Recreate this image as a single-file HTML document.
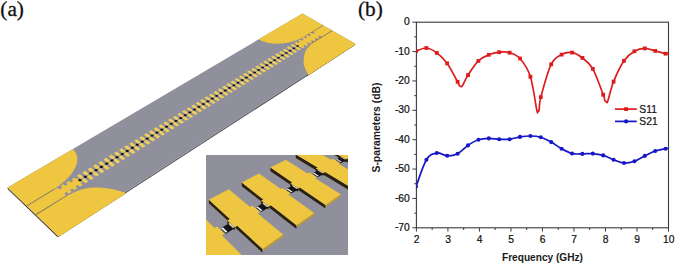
<!DOCTYPE html>
<html><head><meta charset="utf-8"><style>
html,body{margin:0;padding:0;background:#fff;}
body{width:675px;height:263px;overflow:hidden;position:relative;font-family:"Liberation Sans", sans-serif;}
svg{position:absolute;left:0;top:0;}
</style></head><body>
<svg width="675" height="263" viewBox="0 0 675 263">
<defs><clipPath id="pc"><rect x="416.6" y="0" width="260" height="263"/></clipPath><clipPath id="ic"><rect x="206" y="155" width="142" height="100"/></clipPath></defs>
<text x="0.3" y="16.0" font-family="'Liberation Serif', serif" font-size="21.3" fill="#111" stroke="#111" stroke-width="0.3">(a)</text>
<text x="357.9" y="16.0" font-family="'Liberation Serif', serif" font-size="21.3" fill="#111" stroke="#111" stroke-width="0.3">(b)</text>
<g><polygon points="7.60,187.50 57.70,235.70 57.70,237.30 7.60,189.10" fill="#3b3222"/>
<polygon points="57.70,235.70 355.00,43.50 355.00,45.10 57.70,237.30" fill="#5c5c64"/>
<polygon points="57.70,235.70 125.87,191.63 125.87,193.23 57.70,237.30" fill="#3b3222"/>
<polygon points="307.33,74.32 355.00,43.50 355.00,45.10 307.33,75.92" fill="#3b3222"/>
<polygon points="7.60,187.50 302.50,13.50 355.00,43.50 57.70,235.70" fill="#90909c"/>
<polygon points="7.60,187.50 72.64,149.13 73.35,149.78 74.01,150.47 74.62,151.19 75.16,151.94 75.64,152.72 76.07,153.53 76.43,154.37 76.73,155.24 76.97,156.13 77.14,157.05 77.25,157.99 77.30,158.96 77.28,159.94 77.20,160.95 77.05,161.98 76.84,163.02 76.57,164.07 76.23,165.14 75.82,166.23 75.35,167.32 74.82,168.43 74.23,169.54 73.57,170.65 72.85,171.77 72.08,172.90 71.24,174.02 70.34,175.14 69.39,176.26 68.38,177.38 67.31,178.49 66.20,179.59 65.03,180.68 63.81,181.76 62.54,182.82 61.23,183.87 59.87,184.91 58.47,185.92 57.03,186.92 55.55,187.89 54.03,188.84 26.48,205.66" fill="#efc640"/>
<polygon points="36.18,215.00 38.21,213.73 41.01,211.98 44.35,209.90 47.97,207.63 51.65,205.34 55.17,203.15 58.30,201.22 60.81,199.68 62.74,198.51 64.32,197.55 65.63,196.77 66.73,196.13 67.72,195.57 68.66,195.05 69.64,194.54 70.73,193.98 71.88,193.41 72.98,192.87 74.06,192.36 75.12,191.88 76.19,191.42 77.28,190.99 78.40,190.58 79.57,190.19 80.79,189.82 82.02,189.45 83.29,189.11 84.57,188.79 85.88,188.50 87.21,188.25 88.57,188.03 89.94,187.85 91.36,187.71 92.82,187.62 94.31,187.56 95.82,187.53 97.34,187.53 98.85,187.56 100.33,187.62 101.77,187.70 103.19,187.82 104.62,187.98 106.03,188.17 107.43,188.38 108.80,188.61 110.14,188.86 111.43,189.10 112.67,189.34 113.87,189.59 115.03,189.85 116.16,190.12 117.26,190.40 118.31,190.68 119.31,190.96 120.25,191.21 121.14,191.45 121.99,191.67 122.80,191.90 123.57,192.11 124.29,192.32 124.94,192.50 125.51,192.67 126.00,192.81 126.38,192.92 58.76,236.72" fill="#efc640"/>
<polygon points="302.50,13.50 322.95,25.19 305.14,36.08 304.13,36.68 303.08,37.26 302.01,37.82 300.90,38.36 299.77,38.87 298.62,39.37 297.44,39.84 296.23,40.29 295.01,40.71 293.77,41.11 292.52,41.48 291.25,41.82 289.97,42.13 288.68,42.42 287.38,42.68 286.08,42.90 284.77,43.10 283.47,43.27 282.16,43.41 280.86,43.51 279.57,43.59 278.28,43.64 277.00,43.65 275.74,43.63 274.48,43.58 273.25,43.50 272.03,43.39 270.84,43.25 269.66,43.08 268.52,42.88 267.39,42.65 266.30,42.39 265.23,42.10 264.20,41.78 263.20,41.43 262.24,41.06 261.31,40.66 260.42,40.23 259.57,39.78 258.76,39.31" fill="#efc640"/>
<polygon points="308.22,75.14 308.20,75.08 308.19,75.05 308.17,75.00 308.15,74.94 308.11,74.83 308.03,74.66 307.92,74.40 307.75,74.04 307.52,73.56 307.22,72.97 306.88,72.30 306.50,71.56 306.12,70.80 305.76,70.02 305.42,69.26 305.14,68.54 304.89,67.86 304.66,67.20 304.43,66.55 304.23,65.90 304.06,65.22 303.91,64.52 303.80,63.78 303.72,62.99 303.68,62.12 303.68,61.18 303.70,60.20 303.76,59.19 303.84,58.18 303.95,57.20 304.08,56.26 304.23,55.40 304.40,54.59 304.60,53.82 304.82,53.07 305.07,52.36 305.34,51.67 305.63,51.02 305.94,50.39 306.27,49.79 306.61,49.24 306.99,48.72 307.38,48.24 307.79,47.79 308.22,47.35 308.67,46.92 309.12,46.49 309.58,46.04 309.95,45.66 310.20,45.36 310.40,45.11 310.64,44.84 311.01,44.50 311.58,44.05 312.45,43.43 313.69,42.58 315.50,41.40 317.87,39.89 320.60,38.18 323.48,36.38 326.31,34.61 328.90,33.00 331.06,31.66 332.60,30.70 356.10,44.13" fill="#efc640"/>
<polygon points="26.58,205.76 54.13,188.93 54.68,189.43 27.12,206.28" fill="#8a7444"/>
<polygon points="35.52,214.36 66.17,195.33 66.73,195.84 36.08,214.90" fill="#8a7444"/>
<polygon points="305.14,36.08 322.95,25.19 323.52,25.51 305.71,36.41" fill="#8a7444"/>
<polygon points="311.29,43.12 331.91,30.31 332.49,30.64 311.87,43.46" fill="#8a7444"/>
<polygon points="27.12,206.28 55.88,188.70 64.37,196.45 35.52,214.36" fill="#efc640"/>
<polygon points="53.68,193.12 77.40,178.55 81.98,182.59 58.22,197.29" fill="#efc640"/>
<polygon points="313.30,31.77 323.52,25.51 331.91,30.31 321.69,36.65" fill="#efc640"/>
<polygon points="295.60,44.63 317.35,31.28 322.07,34.02 300.32,47.47" fill="#efc640"/>
<g><polygon points="54.82,189.50 57.81,187.67 66.15,195.26 63.15,197.13" fill="#efc640"/><polygon points="60.43,186.07 63.40,184.25 71.76,191.78 68.78,193.63" fill="#efc640"/><polygon points="66.00,182.66 68.95,180.86 77.32,188.33 74.37,190.16" fill="#efc640"/><polygon points="71.52,179.28 74.45,177.49 82.84,184.90 79.91,186.72" fill="#efc640"/><polygon points="76.85,175.80 79.75,174.03 83.50,177.31 80.59,179.09" fill="#f1cf5a"/><polygon points="81.41,179.81 84.31,178.02 88.30,181.51 85.40,183.32" fill="#f1cf5a"/><polygon points="82.28,172.48 85.15,170.72 88.91,173.97 86.03,175.75" fill="#f1cf5a"/><polygon points="86.84,176.46 89.73,174.68 93.72,178.15 90.84,179.94" fill="#f1cf5a"/><polygon points="87.66,169.19 90.51,167.44 94.27,170.67 91.42,172.43" fill="#f1cf5a"/><polygon points="92.23,173.13 95.09,171.37 99.10,174.81 96.23,176.59" fill="#f1cf5a"/><polygon points="93.00,165.93 95.83,164.19 99.60,167.40 96.76,169.14" fill="#f1cf5a"/><polygon points="97.58,169.84 100.41,168.09 104.42,171.50 101.59,173.26" fill="#f1cf5a"/><polygon points="98.29,162.69 101.10,160.97 104.87,164.15 102.06,165.88" fill="#f1cf5a"/><polygon points="102.88,166.57 105.69,164.84 109.71,168.22 106.89,169.97" fill="#f1cf5a"/><polygon points="103.54,159.48 106.32,157.78 110.10,160.93 107.31,162.65" fill="#f1cf5a"/><polygon points="108.13,163.33 110.92,161.61 114.95,164.97 112.15,166.70" fill="#f1cf5a"/><polygon points="108.74,156.30 111.51,154.61 115.29,157.73 112.52,159.44" fill="#f1cf5a"/><polygon points="113.34,160.12 116.11,158.41 120.14,161.74 117.37,163.46" fill="#f1cf5a"/><polygon points="113.90,153.14 116.65,151.46 120.44,154.57 117.69,156.26" fill="#f1cf5a"/><polygon points="118.51,156.93 121.26,155.24 125.29,158.54 122.54,160.25" fill="#f1cf5a"/><polygon points="119.02,150.01 121.75,148.34 125.54,151.42 122.81,153.10" fill="#f1cf5a"/><polygon points="123.64,153.77 126.36,152.09 130.40,155.37 127.67,157.06" fill="#f1cf5a"/><polygon points="124.10,146.90 126.80,145.25 130.60,148.31 127.90,149.97" fill="#f1cf5a"/><polygon points="128.72,150.64 131.43,148.97 135.47,152.22 132.76,153.90" fill="#f1cf5a"/><polygon points="129.14,143.83 131.82,142.19 135.62,145.22 132.94,146.87" fill="#f1cf5a"/><polygon points="133.76,147.53 136.45,145.88 140.49,149.10 137.81,150.77" fill="#f1cf5a"/><polygon points="134.13,140.77 136.79,139.14 140.60,142.15 137.94,143.79" fill="#f1cf5a"/><polygon points="138.76,144.45 141.43,142.81 145.48,146.01 142.81,147.66" fill="#f1cf5a"/><polygon points="139.09,137.74 141.73,136.13 145.54,139.11 142.90,140.74" fill="#f1cf5a"/><polygon points="143.72,141.39 146.37,139.76 150.42,142.94 147.78,144.58" fill="#f1cf5a"/><polygon points="144.00,134.74 146.62,133.13 150.44,136.10 147.81,137.71" fill="#f1cf5a"/><polygon points="148.64,138.36 151.27,136.74 155.32,139.89 152.70,141.52" fill="#f1cf5a"/><polygon points="148.88,131.75 151.48,130.16 155.30,133.11 152.69,134.71" fill="#f1cf5a"/><polygon points="153.52,135.35 156.13,133.74 160.19,136.87 157.58,138.49" fill="#f1cf5a"/><polygon points="153.71,128.80 156.29,127.22 160.12,130.14 157.53,131.73" fill="#f1cf5a"/><polygon points="158.36,132.37 160.95,130.77 165.01,133.88 162.43,135.48" fill="#f1cf5a"/><polygon points="158.51,125.86 161.07,124.30 164.90,127.19 162.33,128.77" fill="#f1cf5a"/><polygon points="163.16,129.41 165.73,127.82 169.80,130.91 167.23,132.50" fill="#f1cf5a"/><polygon points="163.27,122.95 165.81,121.40 169.64,124.27 167.10,125.84" fill="#f1cf5a"/><polygon points="167.93,126.47 170.47,124.90 174.55,127.96 172.00,129.54" fill="#f1cf5a"/><polygon points="167.99,120.07 170.52,118.52 174.35,121.38 171.82,122.93" fill="#f1cf5a"/><polygon points="172.65,123.55 175.18,122.00 179.26,125.03 176.73,126.60" fill="#f1cf5a"/><polygon points="172.68,117.20 175.18,115.67 179.02,118.50 176.51,120.05" fill="#f1cf5a"/><polygon points="177.34,120.66 179.85,119.12 183.93,122.13 181.42,123.69" fill="#f1cf5a"/><polygon points="177.32,114.36 179.81,112.84 183.65,115.65 181.16,117.18" fill="#f1cf5a"/><polygon points="181.99,117.80 184.48,116.26 188.56,119.25 186.07,120.80" fill="#f1cf5a"/><polygon points="181.93,111.54 184.40,110.03 188.24,112.82 185.77,114.34" fill="#f1cf5a"/><polygon points="186.61,114.95 189.08,113.43 193.16,116.40 190.69,117.93" fill="#f1cf5a"/><polygon points="186.51,108.74 188.96,107.24 192.80,110.01 190.35,111.52" fill="#f1cf5a"/><polygon points="191.19,112.13 193.64,110.62 197.73,113.57 195.27,115.09" fill="#f1cf5a"/><polygon points="191.05,105.97 193.48,104.48 197.33,107.23 194.89,108.73" fill="#f1cf5a"/><polygon points="195.73,109.33 198.16,107.83 202.25,110.75 199.82,112.27" fill="#f1cf5a"/><polygon points="195.56,103.21 197.97,101.73 201.82,104.47 199.40,105.95" fill="#f1cf5a"/><polygon points="200.24,106.55 202.65,105.06 206.75,107.96 204.33,109.47" fill="#f1cf5a"/><polygon points="200.03,100.48 202.42,99.01 206.27,101.72 203.87,103.20" fill="#f1cf5a"/><polygon points="204.71,103.79 207.11,102.31 211.20,105.20 208.80,106.69" fill="#f1cf5a"/><polygon points="204.46,97.76 206.84,96.31 210.69,99.00 208.31,100.47" fill="#f1cf5a"/><polygon points="209.15,101.05 211.53,99.59 215.63,102.45 213.24,103.93" fill="#f1cf5a"/><polygon points="208.86,95.07 211.23,93.63 215.08,96.30 212.72,97.76" fill="#f1cf5a"/><polygon points="213.55,98.34 215.92,96.88 220.02,99.72 217.65,101.19" fill="#f1cf5a"/><polygon points="213.23,92.40 215.58,90.97 219.44,93.62 217.09,95.07" fill="#f1cf5a"/><polygon points="217.92,95.64 220.27,94.20 224.37,97.02 222.02,98.48" fill="#f1cf5a"/><polygon points="217.57,89.75 219.90,88.32 223.76,90.96 221.42,92.40" fill="#f1cf5a"/><polygon points="222.26,92.97 224.59,91.53 228.69,94.34 226.36,95.78" fill="#f1cf5a"/><polygon points="221.87,87.12 224.19,85.70 228.04,88.32 225.73,89.75" fill="#f1cf5a"/><polygon points="226.57,90.32 228.88,88.89 232.98,91.67 230.67,93.11" fill="#f1cf5a"/><polygon points="226.14,84.51 228.44,83.10 232.30,85.70 230.00,87.12" fill="#f1cf5a"/><polygon points="230.84,87.68 233.14,86.27 237.24,89.03 234.94,90.46" fill="#f1cf5a"/><polygon points="230.38,81.92 232.66,80.52 236.52,83.10 234.24,84.51" fill="#f1cf5a"/><polygon points="235.08,85.07 237.36,83.66 241.47,86.41 239.18,87.82" fill="#f1cf5a"/><polygon points="234.59,79.34 236.85,77.96 240.71,80.52 238.45,81.92" fill="#f1cf5a"/><polygon points="239.29,82.47 241.55,81.08 245.66,83.80 243.39,85.21" fill="#f1cf5a"/><polygon points="238.76,76.79 241.01,75.41 244.87,77.96 242.62,79.34" fill="#f1cf5a"/><polygon points="243.46,79.90 245.71,78.51 249.82,81.22 247.57,82.62" fill="#f1cf5a"/><polygon points="242.91,74.26 245.14,72.89 249.00,75.42 246.77,76.79" fill="#f1cf5a"/><polygon points="247.61,77.34 249.84,75.97 253.95,78.65 251.72,80.04" fill="#f1cf5a"/><polygon points="247.02,71.74 249.24,70.38 253.10,72.89 250.88,74.26" fill="#f1cf5a"/><polygon points="251.72,74.81 253.94,73.44 258.05,76.11 255.83,77.49" fill="#f1cf5a"/><polygon points="251.10,69.24 253.31,67.90 257.17,70.39 254.97,71.75" fill="#f1cf5a"/><polygon points="255.81,72.29 258.01,70.93 262.12,73.58 259.92,74.95" fill="#f1cf5a"/><polygon points="255.16,66.76 257.35,65.43 261.21,67.90 259.02,69.25" fill="#f1cf5a"/><polygon points="259.86,69.79 262.05,68.44 266.16,71.07 263.97,72.43" fill="#f1cf5a"/><polygon points="259.18,64.30 261.35,62.97 265.22,65.43 263.05,66.77" fill="#f1cf5a"/><polygon points="263.89,67.31 266.06,65.97 270.17,68.58 268.00,69.93" fill="#f1cf5a"/><polygon points="263.17,61.86 265.33,60.54 269.20,62.98 267.04,64.31" fill="#f1cf5a"/><polygon points="267.88,64.85 270.04,63.51 274.15,66.11 271.99,67.45" fill="#f1cf5a"/><polygon points="267.14,59.44 269.29,58.12 273.15,60.55 271.01,61.87" fill="#f1cf5a"/><polygon points="271.85,62.40 273.99,61.08 278.10,63.66 275.96,64.99" fill="#f1cf5a"/><polygon points="271.08,57.03 273.21,55.73 277.08,58.14 274.94,59.45" fill="#f1cf5a"/><polygon points="275.78,59.97 277.91,58.66 282.03,61.22 279.90,62.54" fill="#f1cf5a"/><polygon points="274.99,54.64 277.10,53.34 280.97,55.74 278.85,57.04" fill="#f1cf5a"/><polygon points="279.69,57.56 281.81,56.26 285.92,58.80 283.80,60.12" fill="#f1cf5a"/><polygon points="278.87,52.27 280.97,50.98 284.84,53.36 282.73,54.65" fill="#f1cf5a"/><polygon points="283.57,55.17 285.68,53.87 289.79,56.40 287.68,57.71" fill="#f1cf5a"/><polygon points="282.72,49.91 284.81,48.63 288.67,50.99 286.59,52.28" fill="#f1cf5a"/><polygon points="287.43,52.80 289.51,51.51 293.63,54.02 291.54,55.31" fill="#f1cf5a"/><polygon points="286.54,47.57 288.62,46.30 292.49,48.65 290.41,49.93" fill="#f1cf5a"/><polygon points="291.25,50.44 293.33,49.16 297.44,51.65 295.36,52.94" fill="#f1cf5a"/><polygon points="290.34,45.25 292.40,43.99 296.27,46.32 294.21,47.59" fill="#f1cf5a"/><polygon points="295.05,48.10 297.11,46.83 301.22,49.30 299.16,50.58" fill="#f1cf5a"/><polygon points="294.27,43.04 296.32,41.78 304.98,46.97 302.93,48.24" fill="#efc640"/><polygon points="298.01,40.75 300.05,39.50 308.71,44.65 306.67,45.92" fill="#efc640"/><polygon points="301.73,38.47 303.75,37.24 312.41,42.35 310.39,43.61" fill="#efc640"/><polygon points="305.42,36.21 307.43,34.99 316.09,40.07 314.08,41.32" fill="#efc640"/><polygon points="309.09,33.97 311.09,32.75 319.74,37.80 317.75,39.04" fill="#efc640"/><polygon points="81.18,179.34 81.50,179.81 81.50,180.34 81.18,180.83 80.61,181.18 79.90,181.32 79.19,181.23 78.62,180.92 78.30,180.45 78.31,179.92 78.62,179.43 79.20,179.08 79.90,178.94 80.61,179.03" fill="#101010"/><polygon points="86.62,175.99 86.93,176.45 86.94,176.98 86.62,177.47 86.06,177.82 85.35,177.96 84.64,177.87 84.07,177.56 83.76,177.10 83.76,176.57 84.07,176.08 84.64,175.73 85.34,175.59 86.05,175.68" fill="#101010"/><polygon points="92.01,172.67 92.32,173.13 92.33,173.65 92.02,174.14 91.46,174.48 90.76,174.62 90.05,174.53 89.48,174.23 89.16,173.77 89.16,173.24 89.47,172.76 90.03,172.42 90.73,172.28 91.44,172.37" fill="#101010"/><polygon points="97.35,169.38 97.67,169.83 97.68,170.35 97.37,170.83 96.82,171.18 96.12,171.32 95.41,171.23 94.85,170.92 94.53,170.47 94.52,169.95 94.83,169.47 95.38,169.13 96.08,168.99 96.78,169.08" fill="#101010"/><polygon points="102.65,166.11 102.97,166.57 102.98,167.08 102.68,167.56 102.13,167.90 101.43,168.04 100.73,167.95 100.16,167.65 99.84,167.19 99.83,166.68 100.13,166.20 100.69,165.86 101.38,165.73 102.08,165.81" fill="#101010"/><polygon points="107.90,162.88 108.23,163.33 108.24,163.84 107.95,164.31 107.40,164.65 106.70,164.78 106.01,164.70 105.44,164.40 105.12,163.95 105.10,163.44 105.40,162.97 105.95,162.63 106.64,162.49 107.34,162.58" fill="#101010"/><polygon points="113.11,159.67 113.44,160.11 113.46,160.62 113.17,161.09 112.62,161.42 111.93,161.56 111.24,161.47 110.67,161.17 110.34,160.73 110.33,160.22 110.62,159.76 111.16,159.42 111.85,159.28 112.55,159.37" fill="#101010"/><polygon points="118.28,156.48 118.61,156.93 118.63,157.43 118.34,157.89 117.80,158.22 117.12,158.36 116.42,158.27 115.85,157.98 115.53,157.54 115.51,157.03 115.80,156.57 116.34,156.24 117.02,156.10 117.72,156.19" fill="#101010"/><polygon points="123.41,153.33 123.73,153.76 123.76,154.26 123.48,154.72 122.94,155.05 122.26,155.19 121.56,155.10 121.00,154.81 120.67,154.37 120.65,153.87 120.93,153.41 121.47,153.08 122.15,152.95 122.84,153.04" fill="#101010"/><polygon points="128.49,150.20 128.82,150.63 128.85,151.12 128.57,151.58 128.03,151.91 127.36,152.04 126.67,151.96 126.10,151.67 125.77,151.23 125.75,150.74 126.03,150.28 126.56,149.96 127.23,149.82 127.92,149.91" fill="#101010"/><polygon points="133.53,147.09 133.86,147.52 133.89,148.01 133.62,148.47 133.09,148.79 132.41,148.92 131.72,148.84 131.16,148.55 130.83,148.12 130.80,147.63 131.08,147.18 131.60,146.85 132.28,146.72 132.96,146.80" fill="#101010"/><polygon points="138.53,144.01 138.86,144.44 138.89,144.92 138.62,145.37 138.10,145.70 137.43,145.83 136.74,145.74 136.18,145.46 135.85,145.03 135.81,144.54 136.09,144.09 136.61,143.77 137.28,143.64 137.96,143.73" fill="#101010"/><polygon points="143.49,140.96 143.82,141.38 143.86,141.86 143.59,142.31 143.07,142.63 142.40,142.76 141.72,142.68 141.15,142.39 140.82,141.97 140.79,141.48 141.05,141.04 141.57,140.72 142.24,140.59 142.92,140.67" fill="#101010"/><polygon points="148.41,137.92 148.74,138.35 148.78,138.83 148.52,139.27 148.00,139.59 147.34,139.72 146.65,139.63 146.09,139.35 145.76,138.93 145.72,138.45 145.98,138.01 146.50,137.69 147.16,137.56 147.84,137.65" fill="#101010"/><polygon points="153.29,134.92 153.62,135.34 153.66,135.81 153.40,136.25 152.89,136.57 152.23,136.70 151.55,136.61 150.99,136.34 150.65,135.92 150.61,135.44 150.87,135.00 151.38,134.69 152.04,134.56 152.72,134.64" fill="#101010"/><polygon points="158.13,131.94 158.46,132.35 158.51,132.82 158.25,133.26 157.74,133.57 157.09,133.70 156.41,133.62 155.84,133.34 155.51,132.93 155.46,132.45 155.72,132.02 156.23,131.71 156.89,131.58 157.56,131.66" fill="#101010"/><polygon points="162.93,128.98 163.27,129.39 163.31,129.86 163.06,130.29 162.56,130.60 161.90,130.73 161.23,130.65 160.66,130.37 160.32,129.96 160.28,129.49 160.53,129.06 161.04,128.75 161.69,128.62 162.36,128.71" fill="#101010"/><polygon points="167.69,126.05 168.03,126.45 168.08,126.92 167.83,127.35 167.33,127.66 166.68,127.78 166.00,127.70 165.44,127.43 165.10,127.02 165.05,126.55 165.31,126.13 165.81,125.82 166.46,125.69 167.13,125.77" fill="#101010"/><polygon points="172.41,123.13 172.76,123.54 172.81,124.00 172.56,124.43 172.07,124.73 171.42,124.86 170.75,124.78 170.18,124.51 169.84,124.10 169.79,123.64 170.04,123.21 170.54,122.91 171.18,122.78 171.85,122.86" fill="#101010"/><polygon points="177.10,120.25 177.44,120.65 177.50,121.11 177.26,121.53 176.77,121.83 176.12,121.96 175.45,121.88 174.89,121.61 174.55,121.21 174.49,120.75 174.74,120.33 175.23,120.02 175.87,119.90 176.54,119.98" fill="#101010"/><polygon points="181.75,117.38 182.10,117.78 182.16,118.24 181.92,118.66 181.43,118.96 180.78,119.08 180.12,119.00 179.56,118.73 179.21,118.33 179.16,117.88 179.40,117.46 179.89,117.16 180.53,117.04 181.19,117.12" fill="#101010"/><polygon points="186.37,114.54 186.71,114.93 186.77,115.39 186.54,115.80 186.05,116.10 185.41,116.23 184.75,116.15 184.19,115.88 183.84,115.48 183.78,115.03 184.02,114.62 184.51,114.32 185.14,114.20 185.81,114.27" fill="#101010"/><polygon points="190.95,111.72 191.29,112.11 191.35,112.56 191.12,112.97 190.64,113.27 190.00,113.39 189.34,113.31 188.78,113.05 188.44,112.66 188.37,112.21 188.61,111.80 189.09,111.50 189.72,111.38 190.39,111.46" fill="#101010"/><polygon points="195.49,108.92 195.84,109.31 195.90,109.75 195.67,110.17 195.19,110.46 194.56,110.58 193.90,110.50 193.34,110.24 192.99,109.85 192.93,109.41 193.16,109.00 193.64,108.70 194.27,108.58 194.93,108.66" fill="#101010"/><polygon points="200.00,106.14 200.34,106.53 200.41,106.97 200.19,107.38 199.71,107.67 199.08,107.79 198.42,107.72 197.86,107.46 197.51,107.07 197.45,106.63 197.68,106.22 198.15,105.93 198.78,105.81 199.44,105.88" fill="#101010"/><polygon points="204.47,103.39 204.82,103.77 204.89,104.21 204.67,104.62 204.19,104.91 203.57,105.03 202.91,104.95 202.35,104.69 202.00,104.31 201.93,103.87 202.16,103.46 202.63,103.17 203.25,103.05 203.91,103.13" fill="#101010"/><polygon points="208.91,100.65 209.26,101.04 209.33,101.47 209.11,101.87 208.64,102.16 208.02,102.28 207.36,102.20 206.80,101.95 206.45,101.56 206.38,101.13 206.60,100.73 207.07,100.44 207.69,100.32 208.35,100.40" fill="#101010"/><polygon points="213.31,97.94 213.66,98.32 213.74,98.75 213.52,99.15 213.06,99.44 212.43,99.55 211.78,99.48 211.22,99.23 210.87,98.85 210.80,98.41 211.02,98.01 211.48,97.73 212.10,97.61 212.75,97.69" fill="#101010"/><polygon points="217.68,95.25 218.03,95.62 218.11,96.05 217.90,96.45 217.44,96.73 216.82,96.85 216.16,96.78 215.61,96.52 215.26,96.15 215.18,95.72 215.40,95.32 215.86,95.04 216.47,94.92 217.12,95.00" fill="#101010"/><polygon points="222.02,92.57 222.37,92.95 222.45,93.38 222.24,93.77 221.78,94.05 221.17,94.17 220.52,94.09 219.96,93.84 219.61,93.47 219.53,93.04 219.74,92.65 220.20,92.37 220.81,92.25 221.46,92.33" fill="#101010"/><polygon points="226.32,89.92 226.68,90.30 226.76,90.72 226.55,91.11 226.10,91.39 225.48,91.50 224.83,91.43 224.28,91.18 223.93,90.81 223.85,90.39 224.05,90.00 224.51,89.72 225.12,89.60 225.77,89.68" fill="#101010"/><polygon points="230.59,87.29 230.95,87.66 231.03,88.08 230.83,88.47 230.38,88.75 229.77,88.86 229.12,88.79 228.56,88.54 228.21,88.17 228.13,87.75 228.33,87.36 228.79,87.09 229.39,86.97 230.04,87.05" fill="#101010"/><polygon points="234.83,84.68 235.19,85.05 235.27,85.46 235.07,85.85 234.62,86.13 234.02,86.24 233.37,86.17 232.82,85.92 232.46,85.55 232.38,85.14 232.58,84.75 233.03,84.48 233.64,84.36 234.28,84.44" fill="#101010"/><polygon points="239.04,82.09 239.40,82.45 239.49,82.87 239.29,83.25 238.84,83.52 238.24,83.64 237.59,83.56 237.04,83.32 236.68,82.96 236.60,82.54 236.80,82.16 237.24,81.89 237.85,81.77 238.49,81.85" fill="#101010"/><polygon points="243.22,79.51 243.57,79.88 243.66,80.29 243.47,80.67 243.03,80.94 242.43,81.05 241.78,80.98 241.23,80.74 240.87,80.38 240.79,79.96 240.98,79.59 241.42,79.31 242.03,79.20 242.66,79.27" fill="#101010"/><polygon points="247.36,76.96 247.72,77.32 247.81,77.73 247.62,78.11 247.18,78.38 246.58,78.49 245.94,78.42 245.39,78.18 245.03,77.82 244.94,77.41 245.14,77.03 245.58,76.76 246.17,76.65 246.81,76.72" fill="#101010"/><polygon points="251.48,74.43 251.84,74.78 251.93,75.19 251.74,75.56 251.30,75.83 250.71,75.94 250.07,75.87 249.52,75.63 249.16,75.28 249.07,74.87 249.26,74.50 249.69,74.23 250.29,74.12 250.93,74.19" fill="#101010"/><polygon points="255.56,71.91 255.92,72.26 256.02,72.67 255.83,73.04 255.40,73.31 254.80,73.42 254.17,73.35 253.62,73.11 253.26,72.75 253.16,72.35 253.35,71.98 253.78,71.71 254.38,71.60 255.01,71.67" fill="#101010"/><polygon points="259.62,69.41 259.98,69.76 260.07,70.16 259.89,70.53 259.46,70.80 258.87,70.91 258.23,70.84 257.68,70.60 257.32,70.25 257.23,69.85 257.41,69.48 257.84,69.22 258.43,69.11 259.06,69.18" fill="#101010"/><polygon points="263.64,66.93 264.00,67.28 264.10,67.68 263.92,68.05 263.49,68.31 262.90,68.42 262.27,68.35 261.72,68.12 261.36,67.77 261.26,67.37 261.45,67.00 261.87,66.74 262.46,66.63 263.09,66.70" fill="#101010"/><polygon points="267.63,64.47 268.00,64.82 268.10,65.21 267.92,65.58 267.49,65.84 266.91,65.95 266.28,65.88 265.73,65.65 265.37,65.30 265.27,64.90 265.45,64.54 265.87,64.28 266.46,64.17 267.09,64.24" fill="#101010"/><polygon points="271.60,62.03 271.96,62.37 272.07,62.77 271.89,63.13 271.47,63.39 270.88,63.49 270.26,63.43 269.71,63.20 269.35,62.85 269.24,62.46 269.42,62.10 269.84,61.84 270.42,61.73 271.05,61.80" fill="#101010"/><polygon points="275.54,59.60 275.90,59.95 276.00,60.33 275.83,60.69 275.41,60.95 274.83,61.06 274.21,60.99 273.66,60.76 273.29,60.42 273.19,60.03 273.37,59.67 273.78,59.41 274.36,59.31 274.99,59.38" fill="#101010"/><polygon points="279.45,57.20 279.81,57.54 279.92,57.92 279.74,58.28 279.33,58.54 278.75,58.64 278.13,58.57 277.58,58.35 277.22,58.01 277.11,57.62 277.28,57.26 277.70,57.01 278.27,56.90 278.90,56.97" fill="#101010"/><polygon points="283.33,54.80 283.69,55.14 283.80,55.53 283.63,55.88 283.22,56.14 282.64,56.24 282.02,56.17 281.47,55.95 281.11,55.61 281.00,55.23 281.17,54.87 281.58,54.62 282.16,54.51 282.78,54.58" fill="#101010"/><polygon points="287.18,52.43 287.54,52.77 287.65,53.15 287.49,53.50 287.08,53.75 286.50,53.86 285.88,53.79 285.34,53.57 284.97,53.23 284.86,52.85 285.03,52.50 285.44,52.25 286.01,52.14 286.63,52.21" fill="#101010"/><polygon points="291.00,50.08 291.37,50.41 291.48,50.79 291.32,51.14 290.91,51.39 290.34,51.49 289.72,51.43 289.17,51.20 288.81,50.87 288.70,50.49 288.86,50.14 289.27,49.89 289.84,49.79 290.46,49.85" fill="#101010"/><polygon points="294.80,47.74 295.17,48.07 295.28,48.44 295.12,48.79 294.71,49.04 294.15,49.14 293.53,49.08 292.98,48.86 292.62,48.52 292.51,48.15 292.67,47.80 293.07,47.55 293.64,47.45 294.26,47.52" fill="#101010"/><polygon points="298.57,45.41 298.94,45.74 299.05,46.12 298.89,46.46 298.49,46.71 297.93,46.81 297.31,46.74 296.77,46.53 296.40,46.20 296.29,45.82 296.45,45.48 296.85,45.23 297.41,45.13 298.03,45.19" fill="#101010"/></g></g>
<g clip-path="url(#ic)"><rect x="206" y="155" width="142" height="100" fill="#90909c"/>
<polygon points="375.03,137.45 379.05,135.05 383.60,137.12 379.60,139.56" fill="#0c0c0c"/>
<polygon points="375.03,136.25 379.05,133.85 383.60,135.92 379.60,138.36" fill="#151515"/>
<polygon points="375.03,136.55 375.79,136.10 380.35,138.20 379.60,138.66" fill="#f0f0f0"/>
<polygon points="378.25,134.33 379.05,133.85 383.60,135.92 382.80,136.40" fill="#d8d2b0"/>
<polygon points="338.21,132.23 391.77,158.52 391.77,162.12 338.21,135.83" fill="#2a220e"/>
<polygon points="358.40,143.57 365.89,147.27 365.89,150.15 358.40,146.45" fill="#2a220e"/>
<polygon points="391.77,158.52 402.07,151.31 402.07,153.29 391.77,160.50" fill="#c49a26"/>
<polygon points="338.21,132.23 349.04,126.58 370.40,136.54 371.63,135.81 379.02,139.24 377.80,139.99 402.07,151.31 391.77,158.52 367.20,146.46 365.89,147.27 358.40,143.57 359.73,142.79" fill="#efc640"/>
<polygon points="356.73,148.36 361.22,145.68 365.84,147.97 361.37,150.71" fill="#0c0c0c"/>
<polygon points="356.73,147.16 361.22,144.48 365.84,146.77 361.37,149.51" fill="#151515"/>
<polygon points="356.73,147.46 357.58,146.95 362.22,149.29 361.37,149.81" fill="#f0f0f0"/>
<polygon points="360.33,145.01 361.22,144.48 365.84,146.77 364.96,147.31" fill="#d8d2b0"/>
<polygon points="318.16,142.69 372.50,172.03 372.50,175.63 318.16,146.29" fill="#2a220e"/>
<polygon points="338.41,155.30 346.00,159.43 346.00,162.31 338.41,158.18" fill="#2a220e"/>
<polygon points="372.50,172.03 384.12,163.88 384.12,165.86 372.50,174.01" fill="#c49a26"/>
<polygon points="318.16,142.69 330.22,136.40 351.84,147.42 353.22,146.61 360.73,150.42 359.36,151.26 384.12,163.88 372.50,172.03 347.48,158.52 346.00,159.43 338.41,155.30 339.90,154.43" fill="#efc640"/>
<polygon points="336.21,160.60 341.25,157.59 345.94,160.14 340.91,163.22" fill="#0c0c0c"/>
<polygon points="336.21,159.40 341.25,156.39 345.94,158.94 340.91,162.02" fill="#151515"/>
<polygon points="336.21,159.70 337.16,159.12 341.87,161.73 340.91,162.32" fill="#f0f0f0"/>
<polygon points="340.25,156.98 341.25,156.39 345.94,158.94 344.95,159.55" fill="#d8d2b0"/>
<polygon points="295.72,154.40 350.61,187.36 350.61,190.96 295.72,158.00" fill="#2a220e"/>
<polygon points="315.90,168.51 323.55,173.15 323.55,176.03 315.90,171.39" fill="#2a220e"/>
<polygon points="350.61,187.36 363.83,178.10 363.83,180.08 350.61,189.34" fill="#c49a26"/>
<polygon points="295.72,154.40 309.24,147.35 331.04,159.63 332.59,158.72 340.20,162.97 338.65,163.92 363.83,178.10 350.61,187.36 325.23,172.12 323.55,173.15 315.90,168.51 317.58,167.53" fill="#efc640"/>
<polygon points="313.03,174.41 318.74,171.01 323.48,173.88 317.77,177.37" fill="#0c0c0c"/>
<polygon points="313.03,173.21 318.74,169.81 323.48,172.68 317.77,176.17" fill="#151515"/>
<polygon points="313.03,173.51 314.11,172.87 318.86,175.80 317.77,176.47" fill="#f0f0f0"/>
<polygon points="317.61,170.48 318.74,169.81 323.48,172.68 322.35,173.37" fill="#d8d2b0"/>
<polygon points="270.44,167.59 325.52,204.94 325.52,208.54 270.44,171.19" fill="#2a220e"/>
<polygon points="290.34,183.51 298.01,188.76 298.01,191.64 290.34,186.39" fill="#2a220e"/>
<polygon points="325.52,204.94 340.71,194.30 340.71,196.28 325.52,206.92" fill="#c49a26"/>
<polygon points="270.44,167.59 285.69,159.63 307.55,173.41 309.31,172.38 316.98,177.17 315.22,178.24 340.71,194.30 325.52,204.94 299.93,187.59 298.01,188.76 290.34,183.51 292.26,182.38" fill="#efc640"/>
<polygon points="286.65,190.14 293.17,186.25 297.92,189.50 291.40,193.50" fill="#0c0c0c"/>
<polygon points="286.65,188.94 293.17,185.05 297.92,188.30 291.40,192.30" fill="#151515"/>
<polygon points="286.65,189.24 287.89,188.50 292.64,191.84 291.40,192.60" fill="#f0f0f0"/>
<polygon points="291.88,185.82 293.17,185.05 297.92,188.30 296.63,189.09" fill="#d8d2b0"/>
<polygon points="241.73,182.56 296.50,225.28 296.50,228.88 241.73,186.16" fill="#2a220e"/>
<polygon points="261.09,200.67 268.71,206.67 268.71,209.55 261.09,203.55" fill="#2a220e"/>
<polygon points="296.50,225.28 314.11,212.94 314.11,214.92 296.50,227.26" fill="#c49a26"/>
<polygon points="241.73,182.56 259.07,173.51 280.82,189.09 282.83,187.91 290.49,193.35 288.48,194.58 314.11,212.94 296.50,225.28 270.92,205.32 268.71,206.67 261.09,200.67 263.29,199.38" fill="#efc640"/>
<polygon points="256.35,208.20 263.87,203.72 268.59,207.44 261.05,212.05" fill="#0c0c0c"/>
<polygon points="256.35,207.00 263.87,202.52 268.59,206.24 261.05,210.85" fill="#151515"/>
<polygon points="256.35,207.30 257.78,206.45 262.49,210.28 261.05,211.15" fill="#f0f0f0"/>
<polygon points="262.39,203.41 263.87,202.52 268.59,206.24 267.10,207.15" fill="#d8d2b0"/>
<polygon points="208.86,199.71 262.52,249.08 262.52,252.68 208.86,203.31" fill="#2a220e"/>
<polygon points="227.27,220.51 234.72,227.45 234.72,230.33 227.27,223.39" fill="#2a220e"/>
<polygon points="262.52,249.08 283.18,234.61 283.18,236.59 262.52,251.06" fill="#c49a26"/>
<polygon points="208.86,199.71 228.75,189.33 250.12,207.10 252.44,205.74 260.02,211.98 257.69,213.41 283.18,234.61 262.52,249.08 237.30,225.87 234.72,227.45 227.27,220.51 229.83,219.01" fill="#efc640"/>
<polygon points="221.19,229.16 229.96,223.94 234.57,228.25 225.77,233.63" fill="#0c0c0c"/>
<polygon points="221.19,227.96 229.96,222.74 234.57,227.05 225.77,232.43" fill="#151515"/>
<polygon points="221.19,228.26 222.86,227.27 227.45,231.70 225.77,232.73" fill="#f0f0f0"/>
<polygon points="228.23,223.77 229.96,222.74 234.57,227.05 232.84,228.11" fill="#d8d2b0"/>
<polygon points="170.84,219.54 222.20,277.33 222.20,280.93 170.84,223.14" fill="#2a220e"/>
<polygon points="187.74,243.70 194.84,251.83 194.84,254.71 187.74,246.58" fill="#2a220e"/>
<polygon points="222.20,277.33 246.79,260.11 246.79,262.09 222.20,279.31" fill="#c49a26"/>
<polygon points="170.84,219.54 193.90,207.51 214.50,228.00 217.20,226.42 224.58,233.65 221.86,235.31 246.79,260.11 222.20,277.33 197.88,249.97 194.84,251.83 187.74,243.70 190.74,241.94" fill="#efc640"/>
<polygon points="179.90,253.78 190.24,247.61 194.65,252.66 184.24,259.03" fill="#0c0c0c"/>
<polygon points="179.90,252.58 190.24,246.41 194.65,251.46 184.24,257.83" fill="#151515"/>
<polygon points="179.90,252.88 181.88,251.70 186.23,256.91 184.24,258.13" fill="#f0f0f0"/>
<polygon points="188.21,247.63 190.24,246.41 194.65,251.46 192.60,252.71" fill="#d8d2b0"/>
<polygon points="126.37,242.74 173.59,311.39 173.59,314.99 126.37,246.34" fill="#2a220e"/>
<polygon points="140.89,271.19 147.39,280.83 147.39,283.71 140.89,274.07" fill="#2a220e"/>
<polygon points="173.59,311.39 203.33,290.55 203.33,292.53 173.59,313.37" fill="#c49a26"/>
<polygon points="126.37,242.74 153.40,228.64 172.68,252.54 175.87,250.67 182.84,259.16 179.61,261.14 203.33,290.55 173.59,311.39 151.03,278.60 147.39,280.83 140.89,271.19 144.48,269.08" fill="#efc640"/></g>
<g><rect x="416.40" y="22.20" width="252.10" height="205.60" fill="none" stroke="#3a3a3a" stroke-width="1.1"/>
<path d="M412.40 22.20H416.40M414.20 36.89H416.40M412.40 51.57H416.40M414.20 66.26H416.40M412.40 80.94H416.40M414.20 95.63H416.40M412.40 110.31H416.40M414.20 125.00H416.40M412.40 139.69H416.40M414.20 154.37H416.40M412.40 169.06H416.40M414.20 183.74H416.40M412.40 198.43H416.40M414.20 213.11H416.40M412.40 227.80H416.40M416.40 227.80V231.60M432.16 227.80V230.00M447.91 227.80V231.60M463.67 227.80V230.00M479.42 227.80V231.60M495.18 227.80V230.00M510.94 227.80V231.60M526.69 227.80V230.00M542.45 227.80V231.60M558.21 227.80V230.00M573.96 227.80V231.60M589.72 227.80V230.00M605.48 227.80V231.60M621.23 227.80V230.00M636.99 227.80V231.60M652.74 227.80V230.00M668.50 227.80V231.60" stroke="#3a3a3a" stroke-width="1" fill="none"/>
<g font-family="'Liberation Sans', sans-serif" font-size="10.3" fill="#111" stroke="#111" stroke-width="0.22"><text x="409.8" y="25.30" text-anchor="end">0</text><text x="409.8" y="54.67" text-anchor="end"><tspan dy="-0.8">-</tspan><tspan dy="0.8">10</tspan></text><text x="409.8" y="84.04" text-anchor="end"><tspan dy="-0.8">-</tspan><tspan dy="0.8">20</tspan></text><text x="409.8" y="113.41" text-anchor="end"><tspan dy="-0.8">-</tspan><tspan dy="0.8">30</tspan></text><text x="409.8" y="142.79" text-anchor="end"><tspan dy="-0.8">-</tspan><tspan dy="0.8">40</tspan></text><text x="409.8" y="172.16" text-anchor="end"><tspan dy="-0.8">-</tspan><tspan dy="0.8">50</tspan></text><text x="409.8" y="201.53" text-anchor="end"><tspan dy="-0.8">-</tspan><tspan dy="0.8">60</tspan></text><text x="409.8" y="230.90" text-anchor="end"><tspan dy="-0.8">-</tspan><tspan dy="0.8">70</tspan></text><text x="416.60" y="243.4" text-anchor="middle">2</text><text x="448.11" y="243.4" text-anchor="middle">3</text><text x="479.62" y="243.4" text-anchor="middle">4</text><text x="511.14" y="243.4" text-anchor="middle">5</text><text x="542.65" y="243.4" text-anchor="middle">6</text><text x="574.16" y="243.4" text-anchor="middle">7</text><text x="605.68" y="243.4" text-anchor="middle">8</text><text x="637.19" y="243.4" text-anchor="middle">9</text><text x="668.70" y="243.4" text-anchor="middle">10</text></g>
<text x="542.5" y="261.0" text-anchor="middle" font-family="'Liberation Sans', sans-serif" font-weight="bold" font-size="10.15" fill="#1a1a1a">Frequency (GHz)</text>
<text transform="translate(380.2,127.5) rotate(-90)" text-anchor="middle" font-family="'Liberation Sans', sans-serif" font-weight="bold" font-size="10.4" fill="#1a1a1a">S-parameters (dB)</text>
<g clip-path="url(#pc)">
<path d="M416.00 51.20C417.73 50.67 422.93 47.72 426.40 48.00C429.87 48.28 433.33 50.33 436.80 52.90C440.27 55.47 443.73 58.58 447.20 63.40C450.67 68.22 455.58 78.12 457.60 81.80C459.62 85.48 458.75 84.72 459.30 85.50C459.85 86.28 460.37 86.50 460.90 86.50C461.43 86.50 461.32 87.40 462.50 85.50C463.68 83.60 465.35 79.20 468.00 75.10C470.65 71.00 474.93 64.28 478.40 60.90C481.87 57.52 485.33 56.25 488.80 54.80C492.27 53.35 495.73 52.55 499.20 52.20C502.67 51.85 506.13 51.65 509.60 52.70C513.07 53.75 516.53 54.50 520.00 58.50C523.47 62.50 527.62 68.15 530.40 76.70C533.18 85.25 535.45 104.05 536.70 109.80C537.95 115.55 537.50 111.20 537.90 111.20C538.30 111.20 538.62 112.15 539.10 109.80C539.58 107.45 538.78 104.68 540.80 97.10C542.82 89.52 547.73 71.38 551.20 64.30C554.67 57.22 558.13 56.55 561.60 54.60C565.07 52.65 568.53 52.05 572.00 52.60C575.47 53.15 578.93 55.20 582.40 57.90C585.87 60.60 589.33 62.67 592.80 68.80C596.27 74.93 601.18 89.38 603.20 94.70C605.22 100.02 604.37 99.50 604.90 100.70C605.43 101.90 605.90 101.90 606.40 101.90C606.90 101.90 606.70 104.08 607.90 100.70C609.10 97.32 610.92 88.25 613.60 81.60C616.28 74.95 620.53 65.85 624.00 60.80C627.47 55.75 630.93 53.37 634.40 51.30C637.87 49.23 641.33 48.47 644.80 48.40C648.27 48.33 651.73 50.02 655.20 50.90C658.67 51.78 663.38 53.38 665.60 53.70C667.82 54.02 668.02 52.95 668.50 52.80" fill="none" stroke="#dc1d1d" stroke-width="1.7" stroke-linejoin="round"/>
<path d="M416.00 186.80C417.73 182.28 422.93 165.33 426.40 159.70C429.87 154.07 433.33 153.65 436.80 153.00C440.27 152.35 443.73 155.68 447.20 155.80C450.67 155.92 454.13 155.43 457.60 153.70C461.07 151.97 464.53 147.72 468.00 145.40C471.47 143.08 474.93 140.97 478.40 139.80C481.87 138.63 485.33 138.48 488.80 138.40C492.27 138.32 495.73 139.17 499.20 139.30C502.67 139.43 506.13 139.60 509.60 139.20C513.07 138.80 516.53 137.43 520.00 136.90C523.47 136.37 526.93 135.95 530.40 136.00C533.87 136.05 537.33 136.18 540.80 137.20C544.27 138.22 547.73 140.17 551.20 142.10C554.67 144.03 558.13 146.90 561.60 148.80C565.07 150.70 568.53 152.65 572.00 153.50C575.47 154.35 578.93 153.88 582.40 153.90C585.87 153.92 589.33 153.35 592.80 153.60C596.27 153.85 599.73 154.38 603.20 155.40C606.67 156.42 610.13 158.43 613.60 159.70C617.07 160.97 620.53 162.75 624.00 163.00C627.47 163.25 630.93 162.38 634.40 161.20C637.87 160.02 641.33 157.60 644.80 155.90C648.27 154.20 651.73 152.20 655.20 151.00C658.67 149.80 663.38 149.17 665.60 148.70C667.82 148.23 668.02 148.28 668.50 148.20" fill="none" stroke="#1616c8" stroke-width="1.7" stroke-linejoin="round"/>
<g fill="#dc1d1d"><rect x="414.10" y="49.30" width="3.8" height="3.8"/><rect x="424.50" y="46.10" width="3.8" height="3.8"/><rect x="434.90" y="51.00" width="3.8" height="3.8"/><rect x="445.30" y="61.50" width="3.8" height="3.8"/><rect x="455.70" y="79.90" width="3.8" height="3.8"/><rect x="466.10" y="73.20" width="3.8" height="3.8"/><rect x="476.50" y="59.00" width="3.8" height="3.8"/><rect x="486.90" y="52.90" width="3.8" height="3.8"/><rect x="497.30" y="50.30" width="3.8" height="3.8"/><rect x="507.70" y="50.80" width="3.8" height="3.8"/><rect x="518.10" y="56.60" width="3.8" height="3.8"/><rect x="528.50" y="74.80" width="3.8" height="3.8"/><rect x="538.90" y="95.20" width="3.8" height="3.8"/><rect x="549.30" y="62.40" width="3.8" height="3.8"/><rect x="559.70" y="52.70" width="3.8" height="3.8"/><rect x="570.10" y="50.70" width="3.8" height="3.8"/><rect x="580.50" y="56.00" width="3.8" height="3.8"/><rect x="590.90" y="66.90" width="3.8" height="3.8"/><rect x="601.30" y="92.80" width="3.8" height="3.8"/><rect x="611.70" y="79.70" width="3.8" height="3.8"/><rect x="622.10" y="58.90" width="3.8" height="3.8"/><rect x="632.50" y="49.40" width="3.8" height="3.8"/><rect x="642.90" y="46.50" width="3.8" height="3.8"/><rect x="653.30" y="49.00" width="3.8" height="3.8"/><rect x="663.70" y="51.80" width="3.8" height="3.8"/></g>
<g fill="#1616c8"><circle cx="416.00" cy="186.80" r="2.05"/><circle cx="426.40" cy="159.70" r="2.05"/><circle cx="436.80" cy="153.00" r="2.05"/><circle cx="447.20" cy="155.80" r="2.05"/><circle cx="457.60" cy="153.70" r="2.05"/><circle cx="468.00" cy="145.40" r="2.05"/><circle cx="478.40" cy="139.80" r="2.05"/><circle cx="488.80" cy="138.40" r="2.05"/><circle cx="499.20" cy="139.30" r="2.05"/><circle cx="509.60" cy="139.20" r="2.05"/><circle cx="520.00" cy="136.90" r="2.05"/><circle cx="530.40" cy="136.00" r="2.05"/><circle cx="540.80" cy="137.20" r="2.05"/><circle cx="551.20" cy="142.10" r="2.05"/><circle cx="561.60" cy="148.80" r="2.05"/><circle cx="572.00" cy="153.50" r="2.05"/><circle cx="582.40" cy="153.90" r="2.05"/><circle cx="592.80" cy="153.60" r="2.05"/><circle cx="603.20" cy="155.40" r="2.05"/><circle cx="613.60" cy="159.70" r="2.05"/><circle cx="624.00" cy="163.00" r="2.05"/><circle cx="634.40" cy="161.20" r="2.05"/><circle cx="644.80" cy="155.90" r="2.05"/><circle cx="655.20" cy="151.00" r="2.05"/><circle cx="665.60" cy="148.70" r="2.05"/></g>
</g>
<path d="M615 109.1H636.8" stroke="#dc1d1d" stroke-width="1.7"/><rect x="624.2" y="107.2" width="3.8" height="3.8" fill="#dc1d1d"/>
<path d="M615 121.4H636.8" stroke="#1616c8" stroke-width="1.7"/><circle cx="626.1" cy="121.4" r="2.05" fill="#1616c8"/>
<g font-family="'Liberation Sans', sans-serif" font-size="10.3" fill="#111" stroke="#111" stroke-width="0.2"><text x="639.3" y="112.6">S11</text><text x="639.3" y="125.1">S21</text></g></g>
</svg>
</body></html>
